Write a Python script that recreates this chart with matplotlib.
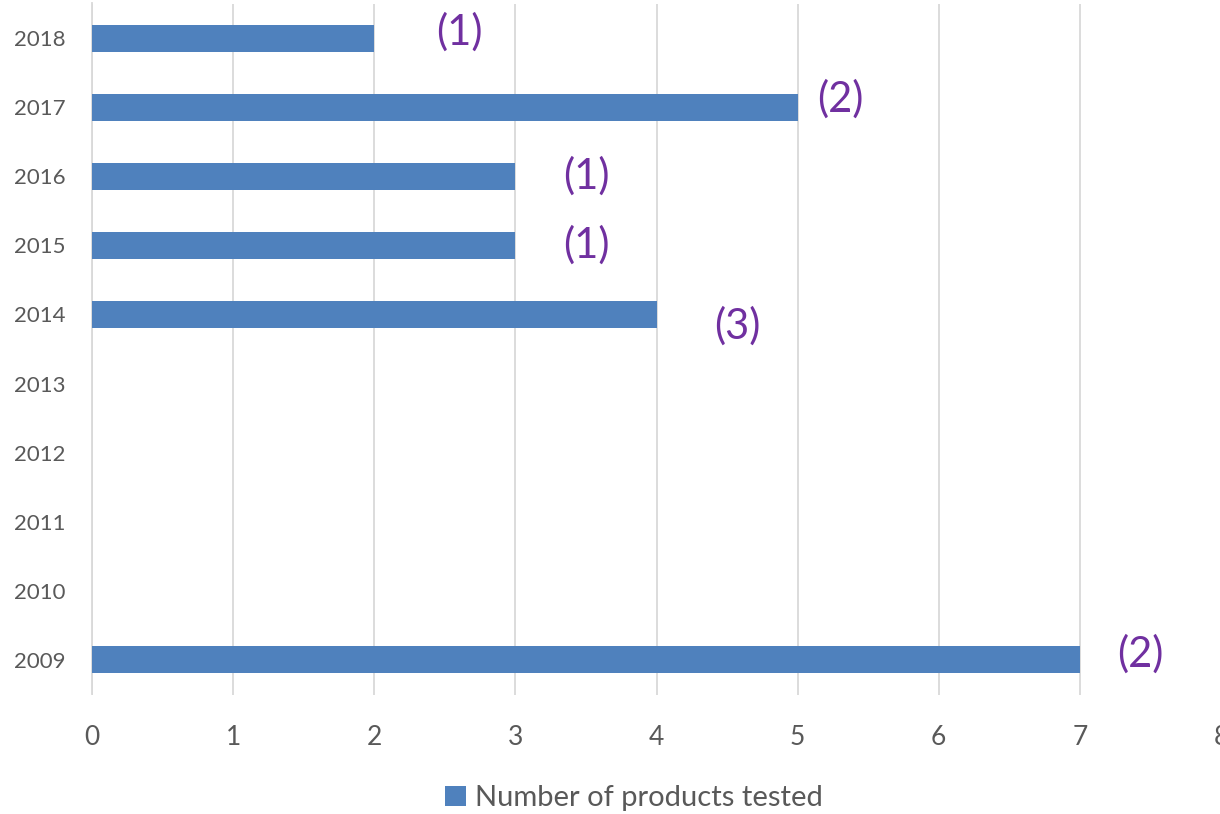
import matplotlib
matplotlib.use("Agg")
import matplotlib.pyplot as plt

years = ["2009", "2010", "2011", "2012", "2013", "2014", "2015", "2016", "2017", "2018"]
products_tested = [7, 0, 0, 0, 0, 4, 3, 3, 5, 2]
notes = ["(2)", "", "", "", "", "(3)", "(1)", "(1)", "(2)", "(1)"]
note_x = [7.43, 0, 0, 0, 0, 4.57, 3.5, 3.5, 5.3, 2.6]
note_dy = [0.08, 0, 0, 0, 0, -0.17, 0.0, 0.0, 0.12, 0.08]
x_ticks = [0, 1, 2, 3, 4, 5, 6, 7, 8]

plt.rcParams['font.family'] = ['Lato', 'DejaVu Sans']

fig = plt.figure(figsize=(12.2, 8.14), dpi=100)
ax = fig.add_axes([92/1220, 1 - 694.5/814, (1221-92)/1220, (694.5-3.5)/814])

ypos = list(range(len(years)))
bars = ax.barh(ypos, products_tested, height=0.39, color="#4F81BD", zorder=3,
               label="Number of products tested")

for i, (t, xv, dy) in enumerate(zip(notes, note_x, note_dy)):
    if t:
        ax.text(xv, i + dy, t, color="#7030A0", fontsize=30, ha="center", va="center", zorder=4)

ax.set_xlim(0, 8)
ax.set_ylim(-0.5, len(years) - 0.5)
ax.set_xticks(x_ticks)
ax.set_xticklabels([str(v) for v in x_ticks])
ax.set_yticks(ypos)
ax.set_yticklabels(years)
ax.tick_params(axis="x", length=0, pad=22, labelsize=19, labelcolor="#595959")
ax.tick_params(axis="y", length=0, pad=19, labelsize=16, labelcolor="#595959")
for lbl in ax.get_yticklabels():
    lbl.set_horizontalalignment("right")
ax.grid(axis="x", color="#D9D9D9", linewidth=1.3, zorder=0)
ax.grid(axis="y", visible=False)
for s in ["top", "right", "bottom"]:
    ax.spines[s].set_visible(False)
ax.spines["left"].set_color("#D9D9D9")
ax.spines["left"].set_linewidth(1.3)

fig.legend(handles=[bars], labels=["Number of products tested"], loc="center",
           bbox_to_anchor=(634/1220, 1 - 798/814), frameon=False, fontsize=21,
           labelcolor="#595959", handlelength=0.7, handleheight=0.7, handletextpad=0.3)

fig.savefig("out.png", dpi=100)
